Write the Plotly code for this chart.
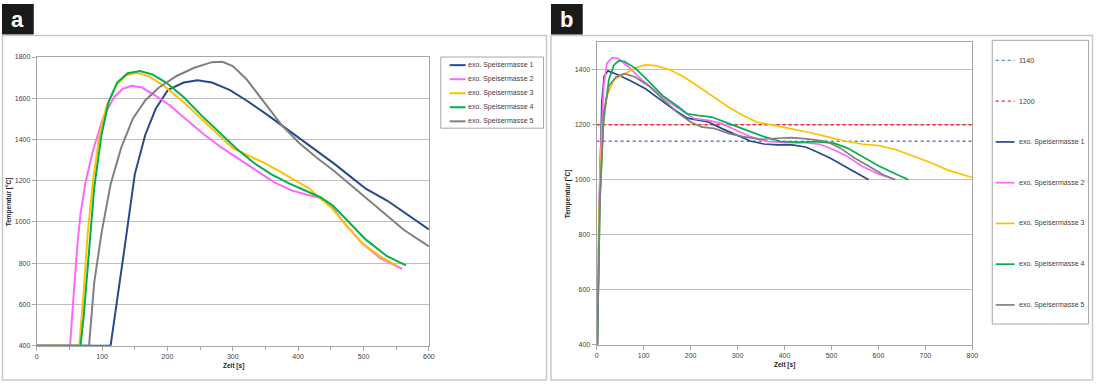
import plotly.graph_objects as go

W, H = 1100, 384

names = ["exo. Speisermasse 1", "exo. Speisermasse 2", "exo. Speisermasse 3",
         "exo. Speisermasse 4", "exo. Speisermasse 5"]
colors = ["#264A8A", "#FF66FF", "#FFC000", "#00B050", "#808080"]

# ---------- Panel a ----------
a_t1 = [0, 113, 134, 150, 166, 182, 201, 225, 246, 268, 295, 321, 354, 375, 402, 429, 455, 482, 504, 536, 562, 600]
a_T1 = [400, 400, 866, 1231, 1422, 1549, 1641, 1676, 1687, 1676, 1641, 1589, 1517, 1469, 1403, 1342, 1283, 1215, 1160, 1104, 1048, 964]
a_t2 = [0, 51, 56, 62, 67, 75, 87, 102, 118, 131, 145, 161, 182, 204, 230, 257, 284, 311, 338, 364, 391, 412, 434, 450, 471, 498, 525, 559]
a_T2 = [400, 400, 627, 881, 1040, 1199, 1358, 1509, 1604, 1644, 1660, 1652, 1612, 1565, 1493, 1422, 1358, 1303, 1247, 1191, 1152, 1133, 1117, 1080, 993, 897, 826, 773]
a_t3 = [0, 65, 71, 78, 86, 96, 107, 121, 137, 153, 171, 198, 225, 252, 279, 300, 321, 348, 375, 396, 418, 434, 450, 471, 498, 525, 552]
a_T3 = [400, 400, 627, 945, 1199, 1422, 1565, 1660, 1711, 1724, 1708, 1652, 1581, 1501, 1422, 1358, 1326, 1287, 1239, 1199, 1160, 1112, 1072, 993, 897, 834, 786]
a_t4 = [0, 67, 72, 80, 88, 99, 110, 123, 139, 158, 177, 198, 225, 252, 279, 305, 332, 359, 386, 412, 434, 453, 477, 504, 536, 565]
a_T4 = [400, 400, 548, 866, 1168, 1422, 1581, 1676, 1721, 1732, 1716, 1676, 1605, 1517, 1438, 1358, 1287, 1231, 1187, 1152, 1120, 1080, 1001, 913, 834, 789]
a_t5 = [0, 80, 88, 99, 113, 129, 147, 166, 187, 214, 241, 268, 284, 300, 321, 348, 375, 402, 429, 455, 482, 509, 536, 562, 600]
a_T5 = [400, 400, 707, 945, 1183, 1358, 1501, 1589, 1652, 1708, 1748, 1775, 1777, 1756, 1692, 1581, 1469, 1382, 1310, 1247, 1175, 1104, 1033, 961, 881]

# ---------- Panel b ----------
b_thresholds = [1140, 1200]
b_thr_names = ["1140", "1200"]
b_thr_colors = ["#5B86C5", "#FF2020"]
b_xrange = [0, 800]

b_t1 = [1.5, 6, 11, 16, 24, 45, 74, 104, 134, 163, 193, 215, 238, 267, 297, 327, 356, 386, 416, 445, 467, 497, 527, 557, 579]
b_T1 = [400, 925, 1281, 1376, 1396, 1382, 1358, 1331, 1293, 1257, 1224, 1216, 1210, 1186, 1162, 1141, 1130, 1127, 1127, 1119, 1103, 1079, 1050, 1020, 1000]
b_t2 = [1.5, 3, 7, 15, 22, 33, 45, 67, 96, 126, 156, 186, 208, 238, 267, 297, 327, 364, 401, 438, 475, 505, 534, 564, 601, 636]
b_T2 = [400, 600, 1044, 1341, 1424, 1444, 1442, 1412, 1364, 1323, 1281, 1246, 1222, 1216, 1204, 1180, 1157, 1139, 1135, 1136, 1129, 1109, 1085, 1050, 1020, 1000]
b_t3 = [1.5, 4, 11, 22, 37, 59, 82, 104, 126, 156, 186, 215, 252, 282, 312, 341, 378, 416, 453, 490, 527, 564, 601, 638, 675, 712, 749, 800]
b_T3 = [400, 806, 1162, 1305, 1364, 1385, 1406, 1418, 1415, 1400, 1374, 1341, 1299, 1263, 1234, 1210, 1198, 1186, 1172, 1157, 1141, 1130, 1124, 1109, 1085, 1062, 1034, 1008]
b_t4 = [1.5, 7, 15, 26, 37, 48, 59, 82, 111, 141, 171, 193, 215, 245, 282, 319, 356, 393, 430, 467, 505, 534, 564, 601, 638, 664]
b_T4 = [400, 925, 1222, 1364, 1418, 1433, 1430, 1406, 1358, 1305, 1269, 1240, 1234, 1228, 1204, 1180, 1157, 1139, 1136, 1139, 1133, 1115, 1085, 1050, 1020, 1000]
b_t5 = [1.5, 7, 15, 26, 41, 59, 82, 111, 141, 171, 200, 223, 252, 282, 312, 349, 386, 416, 453, 490, 519, 549, 579, 608, 636]
b_T5 = [400, 925, 1246, 1341, 1374, 1386, 1374, 1341, 1293, 1246, 1210, 1192, 1186, 1168, 1157, 1147, 1151, 1153, 1148, 1139, 1115, 1079, 1050, 1020, 1000]

a_series = [(a_t1, a_T1), (a_t2, a_T2), (a_t3, a_T3), (a_t4, a_T4), (a_t5, a_T5)]
b_series = [(b_t1, b_T1), (b_t2, b_T2), (b_t3, b_T3), (b_t4, b_T4), (b_t5, b_T5)]

FONT = "Liberation Sans, Arial, sans-serif"
TXT = "#404040"


def px(x):
    return x / W


def py(y):
    return 1 - y / H


fig = go.Figure()

for (t, T), n, c in zip(a_series, names, colors):
    fig.add_trace(go.Scatter(x=t, y=T, mode="lines", name=n, line=dict(color=c, width=2),
                             xaxis="x", yaxis="y", showlegend=False))

for v, n, c in zip(b_thresholds, b_thr_names, b_thr_colors):
    fig.add_trace(go.Scatter(x=b_xrange, y=[v, v], mode="lines", name=n,
                             line=dict(color=c, width=1.5, dash="dot"),
                             xaxis="x2", yaxis="y2", showlegend=False))

for (t, T), n, c in zip(b_series, names, colors):
    fig.add_trace(go.Scatter(x=t, y=T, mode="lines", name=n, line=dict(color=c, width=1.7),
                             xaxis="x2", yaxis="y2", showlegend=False))

axis_common = dict(showline=True, linecolor="#A6A6A6", linewidth=1, mirror=True,
                   ticks="outside", ticklen=4, tickcolor="#A6A6A6",
                   tickfont=dict(family=FONT, size=7, color=TXT), zeroline=False)

shapes = []
annotations = []

# Frames
shapes.append(dict(type="rect", xref="paper", yref="paper", x0=px(0.5), x1=px(548.5), y0=py(383), y1=py(32),
                   line=dict(color="#C8C8C8", width=1.5), layer="below"))
shapes.append(dict(type="rect", xref="paper", yref="paper", x0=px(553), x1=px(1098.5), y0=py(383), y1=py(32),
                   line=dict(color="#C8C8C8", width=1.5), layer="below"))

# Panel label boxes
for x0, x1, lab in [(0, 32, "a"), (553, 585, "b")]:
    shapes.append(dict(type="rect", xref="paper", yref="paper", x0=px(x0), x1=px(x1), y0=py(31), y1=py(0),
                       fillcolor="#1A1A1A", line=dict(width=0)))
    annotations.append(dict(text="<b>%s</b>" % lab, xref="paper", yref="paper", x=px((x0 + x1) / 2), y=py(15.5),
                            showarrow=False, font=dict(family=FONT, size=22, color="white"),
                            xanchor="center", yanchor="middle"))

# Legend a
shapes.append(dict(type="rect", xref="paper", yref="paper", x0=px(442), x1=px(545.5), y0=py(126.5), y1=py(54),
                   line=dict(color="#A6A6A6", width=1)))
for i, (n, c) in enumerate(zip(names, colors)):
    yy = 62.3 + i * 14.3
    shapes.append(dict(type="line", xref="paper", yref="paper", x0=px(451), x1=px(467), y0=py(yy), y1=py(yy),
                       line=dict(color=c, width=2)))
    annotations.append(dict(text=n, xref="paper", yref="paper", x=px(467.5), y=py(yy), showarrow=False,
                            xanchor="left", yanchor="middle", font=dict(family=FONT, size=7, color=TXT)))

# Legend b
shapes.append(dict(type="rect", xref="paper", yref="paper", x0=px(997.5), x1=px(1094.5), y0=py(326), y1=py(37),
                   line=dict(color="#A6A6A6", width=1)))
b_leg = list(zip(b_thr_names, b_thr_colors, ["dot", "dot"])) + list(zip(names, colors, ["solid"] * 5))
for i, (n, c, d) in enumerate(b_leg):
    yy = 57.5 + i * 41.5
    shapes.append(dict(type="line", xref="paper", yref="paper", x0=px(1001), x1=px(1020), y0=py(yy), y1=py(yy),
                       line=dict(color=c, width=1.7 if d == "solid" else 1.3, dash=d)))
    annotations.append(dict(text=n, xref="paper", yref="paper", x=px(1022), y=py(yy), showarrow=False,
                            xanchor="left", yanchor="middle", font=dict(family=FONT, size=7, color=TXT)))

# Axis titles
title_font = dict(family=FONT, size=6.5, color="#262626")
annotations += [
    dict(text="<b>Temperatur [°C]</b>", xref="paper", yref="paper", x=px(7), y=py(201), textangle=-90,
         showarrow=False, xanchor="center", yanchor="middle", font=title_font),
    dict(text="<b>Zeit [s]</b>", xref="paper", yref="paper", x=px(233), y=py(369),
         showarrow=False, xanchor="center", yanchor="middle", font=title_font),
    dict(text="<b>Temperatur [°C]</b>", xref="paper", yref="paper", x=px(571), y=py(193), textangle=-90,
         showarrow=False, xanchor="center", yanchor="middle", font=title_font),
    dict(text="<b>Zeit [s]</b>", xref="paper", yref="paper", x=px(788), y=py(368),
         showarrow=False, xanchor="center", yanchor="middle", font=title_font),
]

fig.update_layout(
    width=W, height=H,
    margin=dict(l=0, r=0, t=0, b=0),
    paper_bgcolor="white", plot_bgcolor="white",
    showlegend=False,
    xaxis=dict(domain=[px(35), px(430)], range=[0, 600], dtick=100, showgrid=False,
               minor=dict(dtick=50, ticks="outside", ticklen=3, tickcolor="#A6A6A6", showgrid=False),
               anchor="y", **axis_common),
    yaxis=dict(domain=[py(348), py(54)], range=[400, 1800], dtick=200, showgrid=True,
               gridcolor="#BFBFBF", gridwidth=1, anchor="x", **axis_common),
    xaxis2=dict(domain=[px(599), px(977.5)], range=[0, 800], dtick=100, showgrid=False,
                anchor="y2", **axis_common),
    yaxis2=dict(domain=[py(347), py(39)], range=[400, 1500], tick0=400, dtick=200, showgrid=True,
                gridcolor="#BFBFBF", gridwidth=1, anchor="x2", **axis_common),
    shapes=shapes,
    annotations=annotations,
)

post = (
    "var de=document.documentElement, b=document.body;"
    "de.style.margin='0'; de.style.padding='0'; de.style.overflow='hidden'; de.style.height='384px';"
    "b.style.margin='0'; b.style.padding='0'; b.style.overflow='hidden'; b.style.height='384px';"
)

fig.write_html("out.html", config={"displayModeBar": False}, post_script=post)
